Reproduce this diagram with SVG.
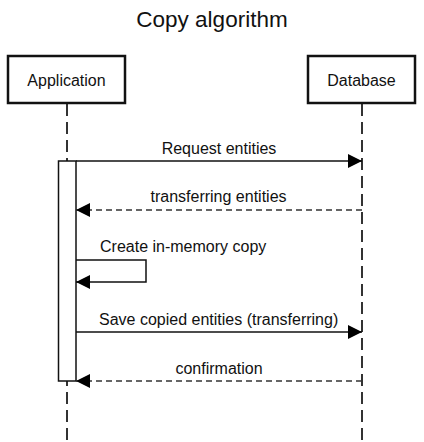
<svg xmlns="http://www.w3.org/2000/svg" width="424" height="442" viewBox="0 0 424 442">
<style>
text{font-family:"Liberation Sans",Arial,sans-serif;fill:#111}
.box{fill:#fff;stroke:#111;stroke-width:2.5}
.life{stroke:#333;stroke-width:2;stroke-dasharray:12 6;fill:none}
.msg{stroke:#111;stroke-width:1.5;fill:none}
.ret{stroke:#333;stroke-width:1.5;stroke-dasharray:6 4;fill:none}
.lbl{font-size:16px}
</style>
<defs>
<marker id="ah" markerWidth="14" markerHeight="14" refX="14" refY="7" orient="auto" markerUnits="userSpaceOnUse"><path d="M0,0 L14,7 L0,14 Z" fill="#000"/></marker>
</defs>
<rect width="424" height="442" fill="#fff"/>
<text x="212" y="27" font-size="22.5" text-anchor="middle">Copy algorithm</text>
<g id="application">
<line class="life" x1="67" y1="104" x2="67" y2="442"/>
<rect class="box" x="8" y="56" width="117" height="47"/>
<text class="lbl" x="66.5" y="85.5" text-anchor="middle">Application</text>
</g>
<g id="database">
<line class="life" x1="362" y1="104" x2="362" y2="442"/>
<rect class="box" x="308" y="56" width="107" height="47"/>
<text class="lbl" x="361.5" y="85.5" text-anchor="middle">Database</text>
</g>
<g id="activation">
<rect x="58.5" y="161" width="17.5" height="220" fill="#fff" stroke="#111" stroke-width="1.5"/>
</g>
<g id="connectors">
<line class="msg" x1="76" y1="161" x2="362" y2="161" marker-end="url(#ah)"/>
<text class="lbl" x="219" y="154" text-anchor="middle">Request entities</text>
<line class="ret" x1="362" y1="210" x2="76" y2="210" marker-end="url(#ah)"/>
<text class="lbl" x="218.5" y="202" text-anchor="middle">transferring entities</text>
<polyline class="msg" points="76,260 146,260 146,282 76,282" marker-end="url(#ah)"/>
<text class="lbl" x="100" y="252">Create in-memory copy</text>
<line class="msg" x1="76" y1="332" x2="362" y2="332" marker-end="url(#ah)"/>
<text class="lbl" x="99" y="325">Save copied entities (transferring)</text>
<line class="ret" x1="362" y1="381" x2="76" y2="381" marker-end="url(#ah)"/>
<text class="lbl" x="219" y="373.5" text-anchor="middle">confirmation</text>
</g>
</svg>
